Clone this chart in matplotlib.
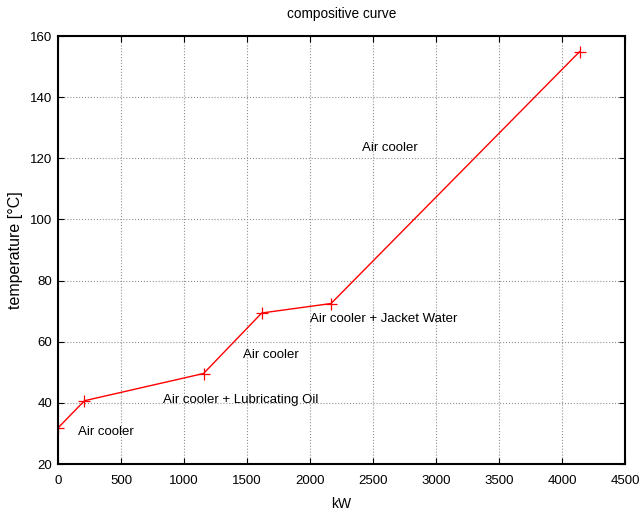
import matplotlib
matplotlib.use("Agg")
import matplotlib.pyplot as plt

# --- Daten ---
kw = [0, 210, 1155, 1617, 2167, 4140]
temp = [31.8, 40.7, 49.6, 69.4, 72.5, 154.9]

labels = ["Air cooler", "Air cooler + Lubricating Oil", "Air cooler",
          "Air cooler + Jacket Water", "Air cooler"]
label_x = [160, 835, 1470, 2000, 2415]
label_y = [30.5, 41.0, 55.7, 67.4, 123.4]

plt.rcParams["font.family"] = ["Liberation Sans"]

fig = plt.figure(figsize=(6.41, 5.23), dpi=100)
ax = fig.add_axes([0.0905, 0.1128, 0.8845, 0.8183])

ax.plot(kw, temp, color="red", linewidth=1, marker="+", markersize=8, markeredgewidth=0.9)

for t, x, y in zip(labels, label_x, label_y):
    ax.text(x, y, t, fontsize=9.5, va="center", ha="left")

ax.set_xlim(0, 4500)
ax.set_ylim(20, 160)
ax.set_xticks(range(0, 4501, 500))
ax.set_yticks(range(20, 161, 20))
ax.grid(True, color="#909090", linestyle=":", linewidth=0.8)
ax.tick_params(direction="in", top=True, right=True, labelsize=9.5, length=4)
ax.tick_params(axis="x", pad=8)
ax.tick_params(axis="y", pad=4)
for s in ax.spines.values():
    s.set_linewidth(1.5)

ax.set_xlabel("kW", fontsize=10, labelpad=7)
ax.set_ylabel("temperature [°C]", fontsize=11.5, labelpad=5)
ax.set_title("compositive curve", fontsize=9.8, pad=13)

fig.savefig("out.png", dpi=100)
